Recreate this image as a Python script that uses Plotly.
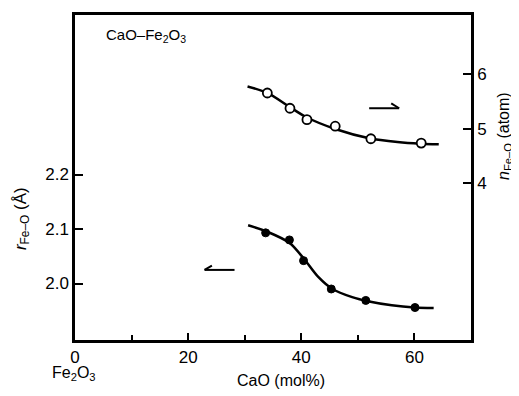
import plotly.graph_objects as go

# Open circles: n_Fe-O (right axis)
n_x = [34.0, 38.0, 41.0, 46.0, 52.3, 61.2]
n_y = [5.66, 5.38, 5.17, 5.05, 4.82, 4.74]
# Smooth curve through n data
n_curve_x = [30.5, 34.0, 38.0, 41.0, 46.0, 52.0, 57.0, 61.0, 64.3]
n_curve_y = [5.78, 5.66, 5.40, 5.21, 5.00, 4.83, 4.76, 4.73, 4.72]

# Filled circles: r_Fe-O (left axis)
r_x = [33.7, 37.9, 40.4, 45.3, 51.4, 60.1]
r_y = [2.093, 2.080, 2.042, 1.990, 1.969, 1.956]
r_curve_x = [30.6, 34.0, 38.0, 40.5, 43.0, 45.5, 49.0, 52.0, 56.0, 60.0, 63.4]
r_curve_y = [2.107, 2.095, 2.074, 2.045, 2.012, 1.990, 1.975, 1.967, 1.960, 1.956, 1.955]

x_ticks = [0, 20, 40, 60]
r_ticks = [2.0, 2.1, 2.2]
n_ticks = [4, 5, 6]

FONT = "Liberation Sans, Arial, sans-serif"

# page body has an 8px margin; work in page pixels and convert
OFF = 8
L, R, T, B = 75, 471, 12, 340      # plot box in page pixels
W, H = 519 - OFF, 396 - OFF        # figure size

fig = go.Figure()
fig.add_trace(go.Scatter(x=r_curve_x, y=r_curve_y, mode="lines",
                         line=dict(color="black", width=2.5, shape="spline", smoothing=0.8),
                         showlegend=False, hoverinfo="skip"))
fig.add_trace(go.Scatter(x=r_x, y=r_y, mode="markers",
                         marker=dict(symbol="circle", size=8, color="black",
                                     line=dict(color="black", width=1)),
                         showlegend=False))
fig.add_trace(go.Scatter(x=n_curve_x, y=n_curve_y, mode="lines", yaxis="y2",
                         line=dict(color="black", width=2.5, shape="spline", smoothing=0.8),
                         showlegend=False, hoverinfo="skip"))
fig.add_trace(go.Scatter(x=n_x, y=n_y, mode="markers", yaxis="y2",
                         marker=dict(symbol="circle", size=9, color="white",
                                     line=dict(color="black", width=1.8)),
                         showlegend=False))


def px(x):
    return (x - L) / (R - L)


def py(y):
    return (B - y) / (B - T)


fig.update_layout(
    width=W, height=H,
    margin=dict(l=L - OFF, r=W - (R - OFF), t=T - OFF, b=H - (B - OFF)),
    paper_bgcolor="white", plot_bgcolor="white",
    font=dict(family=FONT, size=16, color="black"),
    xaxis=dict(range=[0, 70], tickvals=x_ticks, ticktext=[str(v) for v in x_ticks],
               ticks="inside", ticklen=7, tickwidth=1.5, tickcolor="black",
               minor=dict(dtick=10, tick0=0, ticks="inside", ticklen=5, tickwidth=1.5, tickcolor="black"),
               showline=True, linecolor="black", linewidth=2.5, mirror=True,
               showgrid=False, zeroline=False, tickfont=dict(size=17)),
    yaxis=dict(range=[1.8964, 2.4927], tickvals=r_ticks, ticktext=["2.0", "2.1", "2.2"],
               ticks="inside", ticklen=8, tickwidth=1.5, tickcolor="black",
               showline=True, linecolor="black", linewidth=2.5,
               showgrid=False, zeroline=False, tickfont=dict(size=17)),
    yaxis2=dict(range=[1.127, 7.091], tickvals=n_ticks, ticktext=[str(v) for v in n_ticks],
                overlaying="y", side="right",
                ticks="inside", ticklen=8, tickwidth=1.5, tickcolor="black",
                showline=True, linecolor="black", linewidth=2.5,
                showgrid=False, zeroline=False, tickfont=dict(size=17)),
    shapes=[
        # left-pointing harpoon (refers to left axis)
        dict(type="line", xref="x", yref="y", x0=22.9, x1=28.2, y0=2.025, y1=2.025,
             line=dict(color="black", width=2)),
        dict(type="line", xref="x", yref="y", x0=22.9, x1=24.2, y0=2.025, y1=2.033,
             line=dict(color="black", width=2)),
        # right-pointing harpoon (refers to right axis)
        dict(type="line", xref="x", yref="y2", x0=52.0, x1=57.3, y0=5.38, y1=5.38,
             line=dict(color="black", width=2)),
        dict(type="line", xref="x", yref="y2", x0=57.3, x1=55.9, y0=5.38, y1=5.47,
             line=dict(color="black", width=2)),
    ],
    annotations=[
        dict(text="CaO–Fe<sub>2</sub>O<sub>3</sub>", xref="paper", yref="paper",
             x=px(104), y=py(33), xanchor="left", yanchor="middle", showarrow=False,
             font=dict(size=15)),
        dict(text="Fe<sub>2</sub>O<sub>3</sub>", xref="paper", yref="paper",
             x=px(74), y=py(374), xanchor="center", yanchor="middle", showarrow=False,
             font=dict(size=16)),
        dict(text="CaO (mol%)", xref="paper", yref="paper",
             x=px(281), y=py(381), xanchor="center", yanchor="middle", showarrow=False,
             font=dict(size=16)),
        dict(text="<i>r</i><sub>Fe–O</sub> (Å)", xref="paper", yref="paper",
             x=px(22), y=py(218), xanchor="center", yanchor="middle", showarrow=False,
             textangle=-90, font=dict(size=17)),
        dict(text="<i>n</i><sub>Fe–O</sub> (atom)", xref="paper", yref="paper",
             x=px(505), y=py(134), xanchor="center", yanchor="middle", showarrow=False,
             textangle=-90, font=dict(size=16)),
    ],
)

fig.write_html("out.html")
